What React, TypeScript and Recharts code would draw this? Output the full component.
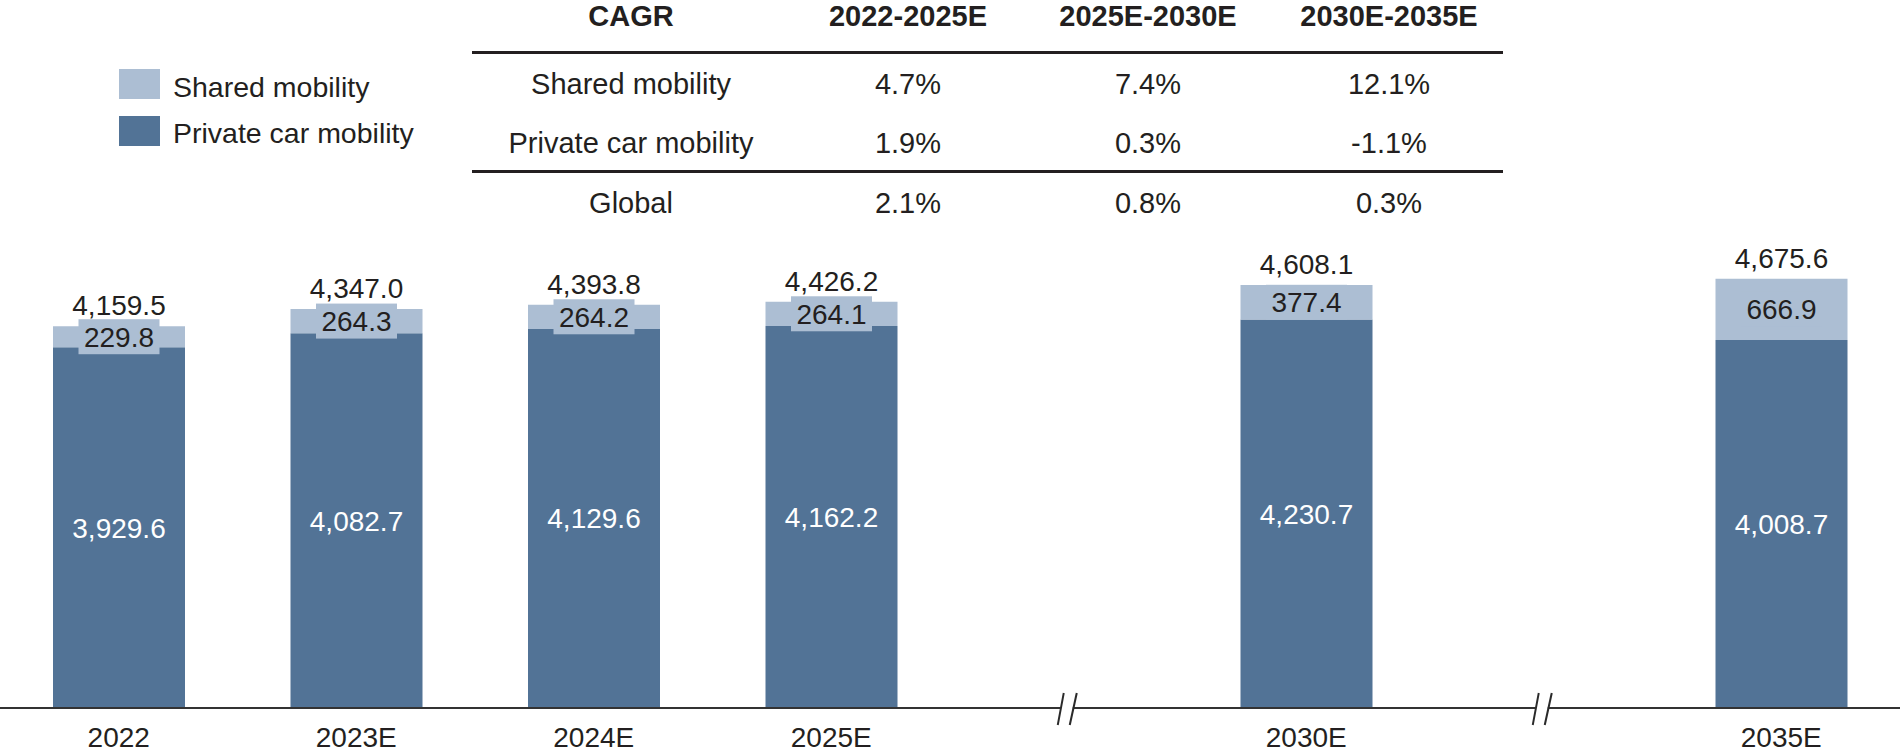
import React from 'react'
import { BarChart, Bar, XAxis, YAxis, LabelList } from 'recharts'

// slots marked 'break' are empty gaps where the axis shows a "//" break
const categories = ['2022', '2023E', '2024E', '2025E', 'break', '2030E', 'break', '2035E']
const privateCarMobility = [3929.6, 4082.7, 4129.6, 4162.2, null, 4230.7, null, 4008.7]
const sharedMobility = [229.8, 264.3, 264.2, 264.1, null, 377.4, null, 666.9]
const totals = [4159.5, 4347.0, 4393.8, 4426.2, null, 4608.1, null, 4675.6]

// CAGR table
const cagrPeriods = ['2022-2025E', '2025E-2030E', '2030E-2035E']
const cagrRowLabels = ['Shared mobility', 'Private car mobility', 'Global']
const cagrShared = [4.7, 7.4, 12.1]
const cagrPrivate = [1.9, 0.3, -1.1]
const cagrGlobal = [2.1, 0.8, 0.3]

const LIGHT = '#acbed3'
const DARK = '#527396'
const INK = '#231f20'
const FONT = '"Liberation Sans", Arial, Helvetica, sans-serif'

const fmt = (v: number) =>
    v.toLocaleString('en-US', { minimumFractionDigits: 1, maximumFractionDigits: 1 })

const chartData = categories.map((name, i) => ({
    name,
    private: privateCarMobility[i],
    shared: sharedMobility[i],
    total: totals[i],
}))

const AxisTick = (props: any) => {
    const { x, y, payload } = props
    if (payload.value === 'break') {
        return (
            <g>
                <rect x={x - 8} y={y - 3} width={12} height={6} fill="#fff" />
                <line x1={x - 11} y1={y + 17} x2={x - 5} y2={y - 15} stroke="#2a2a2a" strokeWidth={2} />
                <line x1={x + 1} y1={y + 17} x2={x + 8} y2={y - 15} stroke="#2a2a2a" strokeWidth={2} />
            </g>
        )
    }
    return (
        <text x={x} y={y + 39} textAnchor="middle" fontSize={28} fill={INK} fontFamily={FONT}>
            {payload.value}
        </text>
    )
}

const SharedLabel = (props: any) => {
    const { x, y, width, height, value } = props
    if (value == null) return null
    const cx = x + width / 2
    const cy = y + height / 2
    return (
        <g>
            <rect x={cx - 40.5} y={cy - 17.5} width={81} height={35} fill={LIGHT} />
            <text x={cx} y={cy + 10} textAnchor="middle" fontSize={28} fill={INK} fontFamily={FONT}>
                {fmt(value)}
            </text>
        </g>
    )
}

const TotalLabel = (props: any) => {
    const { x, y, width, value } = props
    if (value == null) return null
    return (
        <text x={x + width / 2} y={y - 11} textAnchor="middle" fontSize={28} fill={INK} fontFamily={FONT}>
            {fmt(value)}
        </text>
    )
}

const PrivateLabel = (props: any) => {
    const { x, y, width, height, value } = props
    if (value == null) return null
    return (
        <text x={x + width / 2} y={y + height / 2 + 10} textAnchor="middle" fontSize={28} fill="#fff" fontFamily={FONT}>
            {fmt(value)}
        </text>
    )
}

const pct = (v: number) => `${v.toFixed(1)}%`

function CagrTable() {
    const colX = [908, 1148, 1389]
    const labelX = 631
    const rows = [cagrShared, cagrPrivate, cagrGlobal]
    const rowBase = [94, 153, 213]
    return (
        <g fontFamily={FONT} fill={INK}>
            <text x={labelX} y={26} textAnchor="middle" fontSize={29} fontWeight="bold">CAGR</text>
            {cagrPeriods.map((p, i) => (
                <text key={p} x={colX[i]} y={26} textAnchor="middle" fontSize={29} fontWeight="bold">{p}</text>
            ))}
            <line x1={472} y1={52.5} x2={1503} y2={52.5} stroke="#231f20" strokeWidth={3} />
            <line x1={472} y1={171.5} x2={1503} y2={171.5} stroke="#231f20" strokeWidth={3} />
            {cagrRowLabels.map((label, r) => (
                <g key={label}>
                    <text x={labelX} y={rowBase[r]} textAnchor="middle" fontSize={29}>{label}</text>
                    {rows[r].map((v, c) => (
                        <text key={c} x={colX[c]} y={rowBase[r]} textAnchor="middle" fontSize={29}>{pct(v)}</text>
                    ))}
                </g>
            ))}
        </g>
    )
}

function LegendBox() {
    return (
        <g fontFamily={FONT} fill={INK}>
            <rect x={119} y={69} width={41} height={30} fill={LIGHT} />
            <text x={173} y={97} fontSize={28.5}>Shared mobility</text>
            <rect x={119} y={116} width={41} height={30} fill={DARK} />
            <text x={173} y={143} fontSize={28.5}>Private car mobility</text>
        </g>
    )
}

export default function App() {
    return (
        <div style={{ position: 'absolute', left: 0, top: 0, width: 1900, height: 756, background: '#fff' }}>
            <BarChart
                width={1900}
                height={756}
                data={chartData}
                margin={{ top: 249, right: 0, bottom: 0, left: 0 }}
            >
                <XAxis
                    dataKey="name"
                    height={48}
                    interval={0}
                    tickLine={false}
                    tickSize={0}
                    tickMargin={0}
                    axisLine={{ stroke: '#333', strokeWidth: 2 }}
                    tick={<AxisTick />}
                />
                <YAxis hide domain={[0, 5000]} />
                <Bar dataKey="private" stackId="a" fill={DARK} barSize={132} isAnimationActive={false}>
                    <LabelList dataKey="private" content={<PrivateLabel />} />
                </Bar>
                <Bar dataKey="shared" stackId="a" fill={LIGHT} barSize={132} isAnimationActive={false}>
                    <LabelList dataKey="shared" content={<SharedLabel />} />
                    <LabelList dataKey="total" content={<TotalLabel />} />
                </Bar>
            </BarChart>
            <svg width={1900} height={240} style={{ position: 'absolute', left: 0, top: 0, pointerEvents: 'none' }}>
                <LegendBox />
                <CagrTable />
            </svg>
        </div>
    )
}
